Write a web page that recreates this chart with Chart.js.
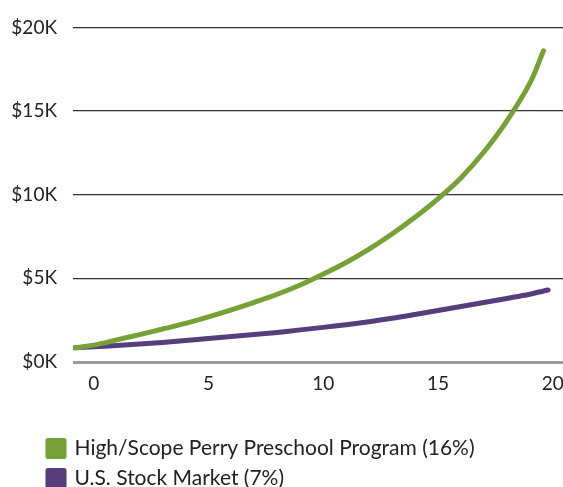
<!DOCTYPE html>
<html>
<head>
<meta charset="utf-8">
<script src="https://cdn.jsdelivr.net/npm/chart.js@4.4.1/dist/chart.umd.min.js"></script>
<style>
  html, body { margin: 0; padding: 0; background: #fff; overflow: hidden; }
  #wrap { width: 563px; height: 487px; }
</style>
</head>
<body>
<div id="wrap"><canvas id="myChart"></canvas></div>
<script>
// values in dollars
const perryYears = [-0.8, 0, 1, 2, 3, 4, 5, 6, 7, 8, 9, 10, 11, 12, 13, 14, 15, 16, 17, 18, 19, 19.6];
const perryValues = [850, 1010, 1320, 1640, 1970, 2310, 2700, 3120, 3570, 4050, 4600, 5250, 5950, 6750, 7650, 8650, 9750, 11000, 12550, 14400, 16650, 18600];

const stockYears = [-0.8, 0, 1, 2, 3, 4, 5, 6, 7, 8, 9, 10, 11, 12, 13, 14, 15, 16, 17, 18, 19, 19.8];
const stockValues = [850, 910, 985, 1070, 1170, 1280, 1400, 1520, 1640, 1770, 1920, 2070, 2230, 2410, 2610, 2840, 3080, 3320, 3560, 3800, 4050, 4300];

const seriesNames = ["High/Scope Perry Preschool Program (16%)", "U.S. Stock Market (7%)"];
const seriesColors = ["#76a135", "#563e7c"];

const yTicks = [0, 5000, 10000, 15000, 20000];

function toPoints(xs, ys) {
  return xs.map((x, i) => ({x: x, y: ys[i]}));
}

// nudge the legend so it lines up like the original
const legendPlace = {
  id: 'legendPlace',
  afterLayout(chart) {
    const lg = chart.legend;
    lg.left = 39;
    lg.top += 12;
    lg.bottom += 12;
  }
};

new Chart("myChart", {
  type: "line",
  data: {
    datasets: [{
      label: seriesNames[0],
      data: toPoints(perryYears, perryValues),
      borderColor: seriesColors[0],
      backgroundColor: seriesColors[0],
      borderWidth: 5,
      borderCapStyle: 'round',
      borderJoinStyle: 'round',
      pointRadius: 0,
      tension: 0.35
    }, {
      label: seriesNames[1],
      data: toPoints(stockYears, stockValues),
      borderColor: seriesColors[1],
      backgroundColor: seriesColors[1],
      borderWidth: 5,
      borderCapStyle: 'round',
      borderJoinStyle: 'round',
      pointRadius: 0,
      tension: 0.35
    }]
  },
  plugins: [legendPlace],
  options: {
    responsive: true,
    maintainAspectRatio: false,
    animation: false,
    layout: { padding: { left: 0, top: 7, right: 0, bottom: 0 } },
    plugins: {
      tooltip: { enabled: false },
      legend: {
        position: 'bottom',
        align: 'start',
        labels: {
          boxWidth: 16,
          boxHeight: 16,
          padding: 9,
          color: '#222',
          font: { family: 'Lato', size: 21 }
        }
      }
    },
    scales: {
      x: {
        type: 'linear',
        min: -0.9,
        max: 20.45,
        grid: { display: false },
        border: { display: false },
        ticks: {
          stepSize: 5,
          includeBounds: false,
          padding: 2,
          color: '#222',
          font: { family: 'Lato', size: 19 }
        },
        afterFit(scale) { scale.paddingRight = 0; scale.height = 55; }
      },
      y: {
        min: 0,
        max: 20000,
        afterBuildTicks(scale) { scale.ticks = yTicks.map(v => ({value: v})); },
        afterFit(scale) { scale.width = 73; },
        grid: {
          drawTicks: false,
          color: ctx => ctx.tick && ctx.tick.value === 0 ? '#9a9a9a' : '#333',
          lineWidth: ctx => ctx.tick && ctx.tick.value === 0 ? 3 : 1.2
        },
        border: { display: false },
        ticks: {
          padding: 16,
          color: '#222',
          font: { family: 'Lato', size: 19 },
          callback: v => '$' + (v / 1000) + 'K'
        }
      }
    }
  }
});
</script>
</body>
</html>
